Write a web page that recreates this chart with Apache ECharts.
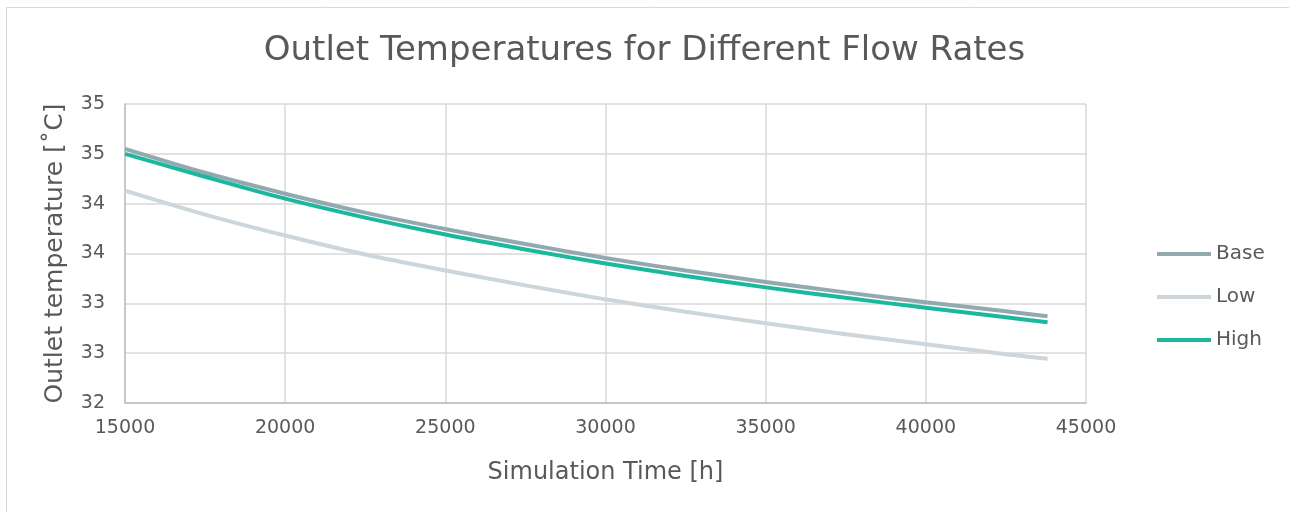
<!DOCTYPE html>
<html>
<head>
<meta charset="utf-8">
<title>Outlet Temperatures for Different Flow Rates</title>
<script src="https://cdn.jsdelivr.net/npm/echarts@6/dist/echarts.min.js"></script>
<style>
  html, body { margin: 0; padding: 0; background: #ffffff; }
  #chart { width: 1289px; height: 512px; }
</style>
</head>
<body>
<div id="chart"></div>
<script>
// Simulation time in hours (last point = 5 years)
const timeHours = [15000, 17500, 20000, 22500, 25000, 27500, 30000, 32500, 35000, 37500, 40000, 42500, 43800];

// Outlet temperature in °C for each flow-rate case
const baseTemp = [34.55, 34.31, 34.10, 33.91, 33.745, 33.595, 33.455, 33.33, 33.215, 33.11, 33.01, 32.92, 32.87];
const lowTemp  = [34.13, 33.89, 33.68, 33.49, 33.33, 33.18, 33.04, 32.915, 32.80, 32.69, 32.59, 32.49, 32.445];
const highTemp = [34.50, 34.27, 34.05, 33.86, 33.69, 33.54, 33.40, 33.275, 33.16, 33.055, 32.955, 32.86, 32.81];

const seriesNames = ['Base', 'Low', 'High'];
const seriesColors = ['#92a9b0', '#ccd6db', '#1bb89f'];

const pairs = (ys) => timeHours.map((t, i) => [t, ys[i]]);

const FONT = '"DejaVu Sans", Verdana, sans-serif';
const TEXT = '#595959';

const chart = echarts.init(document.getElementById('chart'), null, { renderer: 'canvas' });

chart.setOption({
  backgroundColor: '#ffffff',
  animation: false,
  color: seriesColors,
  title: {
    text: 'Outlet Temperatures for Different Flow Rates',
    left: 'center',
    top: 29,
    textStyle: { fontFamily: FONT, fontSize: 34, fontWeight: 'normal', color: TEXT }
  },
  graphic: [{
    type: 'rect',
    shape: { x: 6.5, y: 7.5, width: 1300, height: 520 },
    style: { fill: 'none', stroke: '#d9d9d9', lineWidth: 1 },
    silent: true
  }],
  legend: {
    orient: 'vertical',
    left: 1152,
    top: 238,
    itemWidth: 54,
    itemHeight: 4,
    itemGap: 21,
    icon: 'rect',
    data: seriesNames,
    textStyle: { fontFamily: FONT, fontSize: 20, color: TEXT, lineHeight: 22 }
  },
  grid: { left: 125, top: 104, width: 961, height: 299 },
  xAxis: {
    type: 'value',
    min: 15000,
    max: 45000,
    interval: 5000,
    name: 'Simulation Time [h]',
    nameLocation: 'middle',
    nameGap: 58,
    nameTextStyle: { fontFamily: FONT, fontSize: 24, color: TEXT },
    axisLine: { show: true, lineStyle: { color: '#bfbfbf', width: 1.5 } },
    axisTick: { show: false },
    axisLabel: {
      margin: 16, fontFamily: FONT, fontSize: 19, color: TEXT,
      formatter: (v) => String(v)
    },
    splitLine: { show: true, lineStyle: { color: '#d9d9d9', width: 1.5 } }
  },
  yAxis: {
    type: 'value',
    min: 32,
    max: 35,
    interval: 0.5,
    name: 'Outlet temperature [˚C]',
    nameLocation: 'middle',
    nameGap: 57,
    nameTextStyle: { fontFamily: FONT, fontSize: 25, color: TEXT },
    axisLine: { show: true, lineStyle: { color: '#bfbfbf', width: 1.5 } },
    axisTick: { show: false },
    axisLabel: {
      margin: 20,
      fontFamily: FONT, fontSize: 19, color: TEXT,
      formatter: (v) => String(Math.round(v))
    },
    splitLine: { show: true, lineStyle: { color: '#d9d9d9', width: 1.5 } }
  },
  series: [
    { name: 'Base', type: 'line', data: pairs(baseTemp), smooth: 0.3, showSymbol: false, lineStyle: { width: 4, color: seriesColors[0] }, z: 3 },
    { name: 'Low',  type: 'line', data: pairs(lowTemp),  smooth: 0.3, showSymbol: false, lineStyle: { width: 4, color: seriesColors[1] }, z: 2 },
    { name: 'High', type: 'line', data: pairs(highTemp), smooth: 0.3, showSymbol: false, lineStyle: { width: 4, color: seriesColors[2] }, z: 4 }
  ]
});
</script>
</body>
</html>
